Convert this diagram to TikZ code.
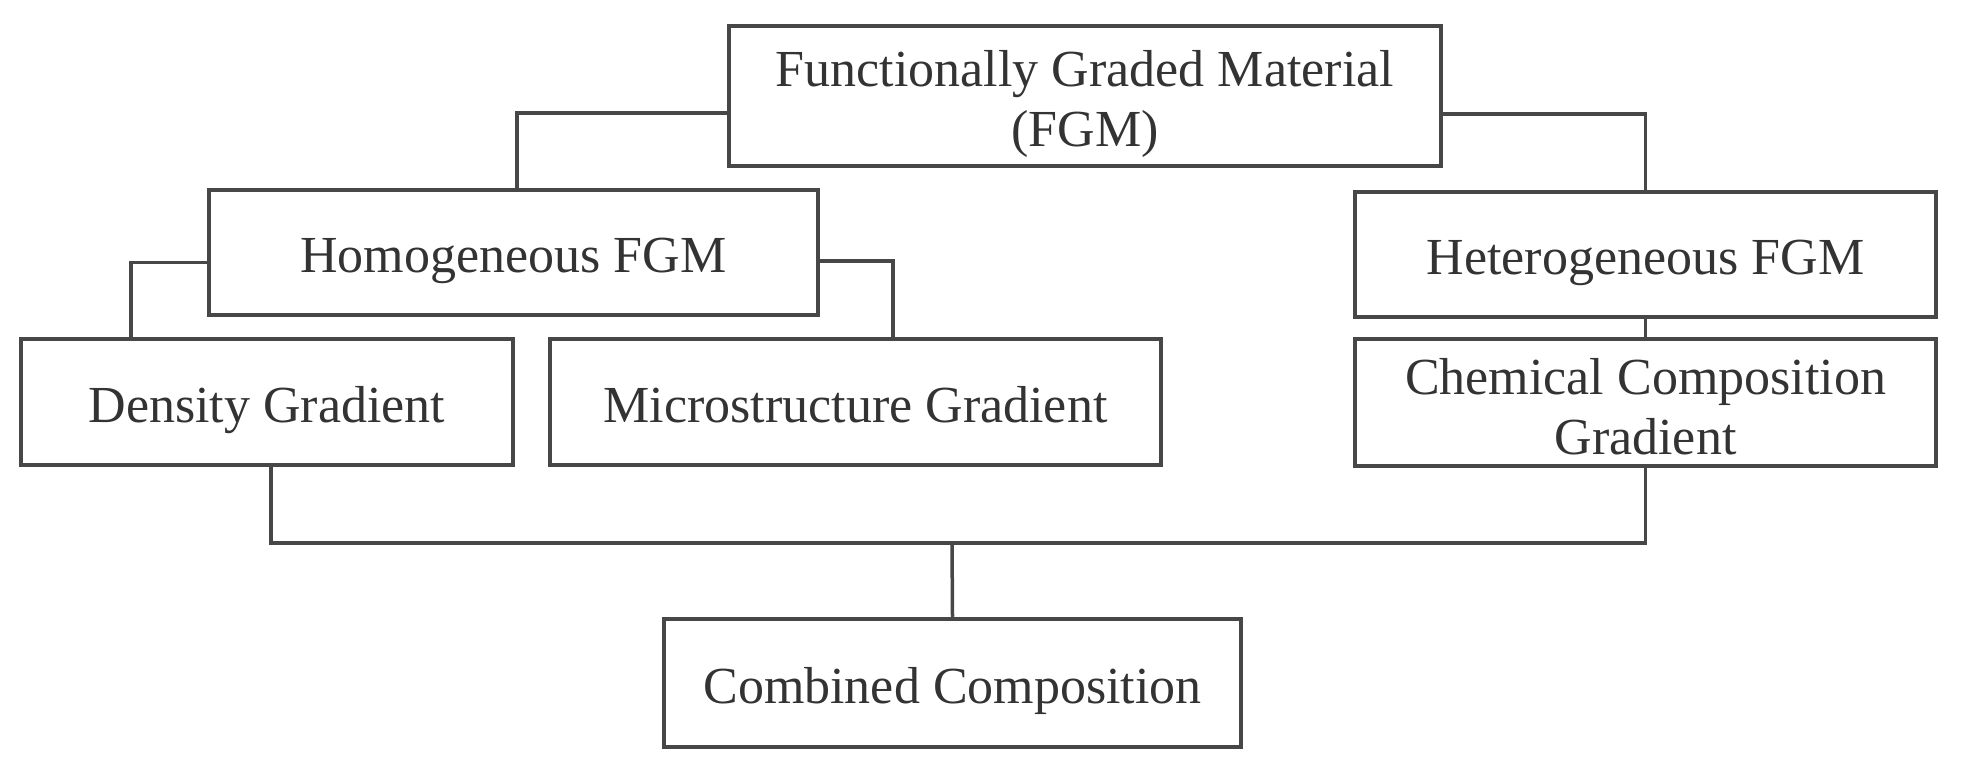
\documentclass[tikz,border=0pt]{standalone}
\usepackage{fontspec}
\setmainfont{Liberation Serif}
\begin{document}
\begin{tikzpicture}[x=1pt,y=-1pt,
  box/.style={draw=black!72, line width=4.5pt, fill=white, text=black!80,
    inner sep=0pt, align=center, font=\fontsize{52}{60}\selectfont},
  oneline/.style={box, text height=40pt, text depth=0pt},
  conn/.style={draw=black!72, line width=3.5pt}]
\useasboundingbox (0,0) rectangle (1961,768);
\node[box, minimum width=712pt, minimum height=140pt] (fgm) at (1085,96) {\rule{0pt}{52pt}Functionally Graded Material\\(FGM)};
\node[oneline, minimum width=609pt, minimum height=125pt] (hom) at (513.5,252.5) {Homogeneous FGM};
\node[oneline, minimum width=581pt, minimum height=125pt] (het) at (1645.5,254.5) {Heterogeneous FGM};
\node[oneline, minimum width=492pt, minimum height=126pt] (den) at (267,402) {Density Gradient};
\node[oneline, minimum width=611pt, minimum height=126pt] (mic) at (855.5,402) {Microstructure Gradient};
\node[box, minimum width=581pt, minimum height=127pt] (chem) at (1645.5,402.5) {\rule{0pt}{45pt}Chemical Composition\\Gradient};
\node[oneline, minimum width=577pt, minimum height=128pt] (comb) at (952.5,683) {Combined Composition};
\coordinate (bus) at (952,543);
\draw[conn] ([yshift=-17pt]fgm.west) -| ([xshift=3.5pt]hom.north);
\draw[conn] ([yshift=-18pt]fgm.east) -| (het.north);
\draw[conn] ([yshift=-10pt]hom.west) -| ([xshift=-136pt]den.north);
\draw[conn] ([yshift=-8.5pt]hom.east) -| ([xshift=37.5pt]mic.north);
\draw[conn] (het.south) -- (chem.north);
\draw[conn] ([xshift=4pt]den.south) |- (bus) -| (chem.south);
\draw[conn] (bus) -- (comb.north);
\end{tikzpicture}
\end{document}
